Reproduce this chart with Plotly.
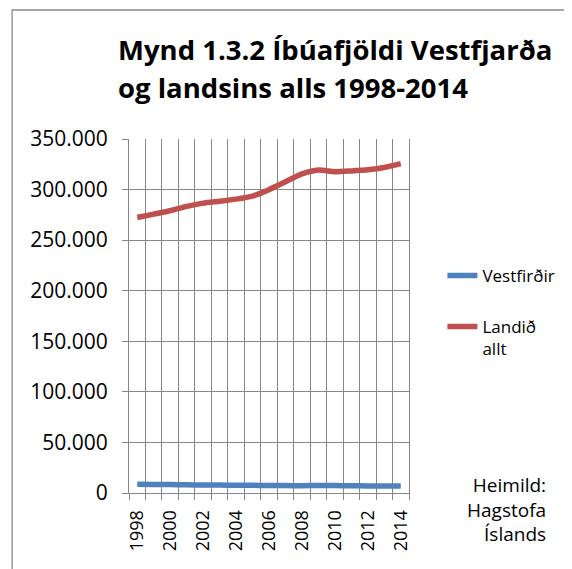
import plotly.graph_objects as go

years = list(range(1998, 2015))
vestfirdir = [8700, 8460, 8290, 8060, 7920, 7790, 7700, 7550, 7470, 7310, 7280, 7360, 7310, 7140, 7030, 6970, 6980]
landid_allt = [272381, 275712, 279049, 283361, 286575, 288471, 290570, 293577, 299891, 307672,
               315459, 319368, 317630, 318452, 319575, 321857, 325671]
x_ticklabels = [str(y) for y in years[::2]]
title_lines = ["Mynd 1.3.2 Íbúafjöldi Vestfjarða", "og landsins alls 1998-2014"]
source_text = "Heimild:<br>Hagstofa<br>Íslands"

OFF = 8  # page body margin
W, H = 572 - OFF, 569 - OFF
# plot area in reference pixel coords
X0, X1, Y0, Y1 = 129, 414, 139, 493
L, R, T, B = X0 - OFF, W - (X1 - OFF), Y0 - OFF, H - (Y1 - OFF)
pw, ph = W - L - R, H - T - B

def px(xref_pix):
    return (xref_pix - OFF - L) / pw

def py(yref_pix):
    return (H - B - (yref_pix - OFF)) / ph

FONT = "Open Sans"
GRID = "#878787"

fig = go.Figure()
fig.add_trace(go.Scatter(x=years, y=vestfirdir, name="Vestfirðir", mode="lines",
                         line=dict(color="#4F81BD", width=5.5, shape="spline", smoothing=0.6),
                         legend="legend"))
fig.add_trace(go.Scatter(x=years, y=landid_allt, name="Landið<br>allt", mode="lines",
                         line=dict(color="#C0504D", width=5.5, shape="spline", smoothing=0.6),
                         legend="legend2"))

fig.update_layout(
    width=W, height=H,
    margin=dict(l=L, r=R, t=T, b=B),
    paper_bgcolor="white", plot_bgcolor="white",
    separators=",.",
    font=dict(family=FONT, color="black", size=18),
    showlegend=True,
    legend=dict(x=px(448), y=py(258), xanchor="left", yanchor="top",
                font=dict(family=FONT, size=17, color="black"), bgcolor="rgba(0,0,0,0)"),
    legend2=dict(x=px(448), y=py(309), xanchor="left", yanchor="top", valign="top",
                 font=dict(family=FONT, size=17, color="black"), bgcolor="rgba(0,0,0,0)"),
    xaxis=dict(
        range=[1997.5, 2014.5],
        tickmode="array", tickvals=years[::2], ticktext=x_ticklabels,
        tickangle=-90, ticks="", showgrid=False, ticklabelstandoff=9,
        tickfont=dict(family=FONT, size=18, color="black"),
        showline=True, linecolor=GRID, linewidth=1,
        minor=dict(tick0=1997.5, dtick=1, ticks="outside", ticklen=6, tickcolor=GRID,
                   showgrid=True, gridcolor=GRID, gridwidth=1),
        zeroline=False,
    ),
    yaxis=dict(
        range=[0, 350000], dtick=50000, tickformat=",d",
        ticks="outside", ticklen=6, tickcolor=GRID, ticklabelstandoff=10,
        showgrid=True, gridcolor=GRID, gridwidth=1,
        showline=True, linecolor=GRID, linewidth=1, mirror=True,
        tickfont=dict(family=FONT, size=21, color="black"),
        zeroline=False,
    ),
)

fig.add_annotation(text="<b>" + title_lines[0] + "</b>", xref="paper", yref="paper",
                   x=px(116), y=py(50), xanchor="left", yanchor="middle", showarrow=False,
                   font=dict(family=FONT, size=27.5, color="black"))
fig.add_annotation(text="<b>" + title_lines[1] + "</b>", xref="paper", yref="paper",
                   x=px(116), y=py(88), xanchor="left", yanchor="middle", showarrow=False,
                   font=dict(family=FONT, size=27.5, color="black"))
fig.add_annotation(text=source_text, xref="paper", yref="paper",
                   x=px(555), y=py(509), xanchor="right", yanchor="middle", align="right",
                   showarrow=False, font=dict(family=FONT, size=19, color="black"))

fig.add_shape(type="rect", xref="paper", yref="paper",
              x0=px(10), x1=px(620), y0=py(620), y1=py(10),
              line=dict(color="#8a8a8a", width=1.3), fillcolor="rgba(0,0,0,0)", layer="below")

fig.write_html("out.html")
